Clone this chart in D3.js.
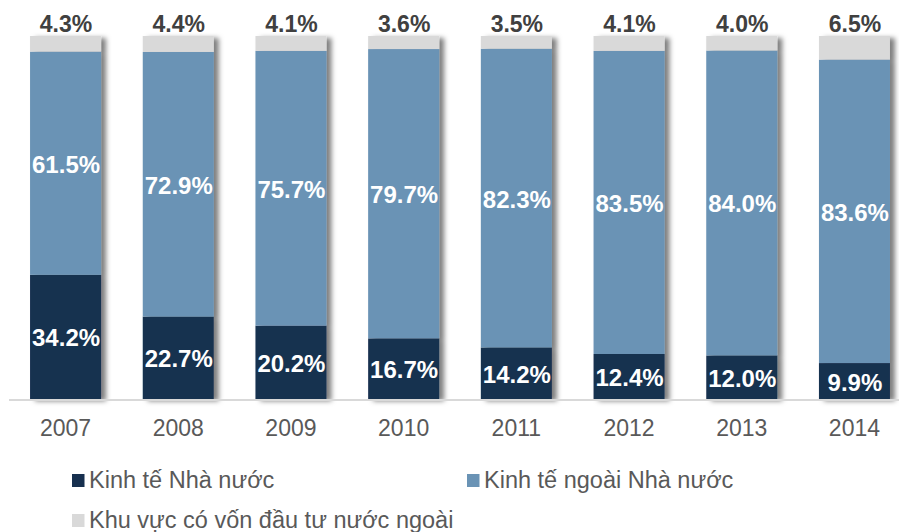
<!DOCTYPE html>
<html>
<head>
<meta charset="utf-8">
<script src="https://cdn.jsdelivr.net/npm/d3@7"></script>
<style>
  html, body { margin: 0; padding: 0; background: #fff; }
  svg { display: block; font-family: "Liberation Sans", Arial, sans-serif; }
</style>
</head>
<body>
<svg id="chart" width="899" height="532"></svg>
<script>
const years = ["2007", "2008", "2009", "2010", "2011", "2012", "2013", "2014"];
const stateSector = [34.2, 22.7, 20.2, 16.7, 14.2, 12.4, 12.0, 9.9];
const nonStateSector = [61.5, 72.9, 75.7, 79.7, 82.3, 83.5, 84.0, 83.6];
const fdiSector = [4.3, 4.4, 4.1, 3.6, 3.5, 4.1, 4.0, 6.5];
const seriesNames = ["Kinh tế Nhà nước", "Kinh tế ngoài Nhà nước", "Khu vực có vốn đầu tư nước ngoài"];
const seriesColors = ["#17304f", "#6a93b5", "#d9d9d9"];

const svg = d3.select("#chart");

const defs = svg.append("defs");
const f = defs.append("filter").attr("id", "shadow")
  .attr("x", "-20%").attr("y", "-5%").attr("width", "150%").attr("height", "115%");
f.append("feDropShadow").attr("dx", 5).attr("dy", 2).attr("stdDeviation", 2.5)
  .attr("flood-color", "#000").attr("flood-opacity", 0.5);

const x = d3.scaleBand().domain(years).range([9.2, 910.8]).paddingInner(0.37).paddingOuter(0.185);
const y = d3.scaleLinear().domain([0, 100]).range([399, 36]);

const rows = years.map((yr, i) => ({ year: yr, s0: stateSector[i], s1: nonStateSector[i], s2: fdiSector[i] }));
const stack = d3.stack().keys(["s0", "s1", "s2"]);
const layers = stack(rows);

// bars with shadow, grouped per year
const barG = svg.append("g");
years.forEach((yr, i) => {
  const g = barG.append("g").attr("filter", "url(#shadow)");
  layers.forEach((layer, k) => {
    const d = layer[i];
    g.append("rect")
      .attr("x", x(yr))
      .attr("width", x.bandwidth())
      .attr("y", y(d[1]))
      .attr("height", y(d[0]) - y(d[1]))
      .attr("fill", seriesColors[k]);
  });
});

// axis line
const axisG = svg.append("g").attr("transform", "translate(0,400)");
axisG.call(d3.axisBottom(x).tickSize(0).tickPadding(0));
axisG.select(".domain").attr("d", "M9,0H899").attr("stroke", "#d9d9d9").attr("stroke-width", 2);
axisG.selectAll(".tick text")
  .attr("y", 36).attr("dy", null)
  .attr("font-size", "23px")
  .attr("font-family", "Liberation Sans, Arial, sans-serif")
  .attr("fill", "#595959");

// inner labels
const labelG = svg.append("g");
[0, 1].forEach(k => {
  layers[k].forEach((d, i) => {
    const cy = (y(d[0]) + y(d[1])) / 2;
    labelG.append("text")
      .attr("x", x(years[i]) + x.bandwidth() / 2 + 0.5)
      .attr("y", cy + 9.5)
      .attr("text-anchor", "middle")
      .attr("font-size", "24px")
      .attr("font-weight", "bold")
      .attr("fill", "#ffffff")
      .text(d3.format(".1f")(d.data[k === 0 ? "s0" : "s1"]) + "%");
  });
});

// top labels
layers[2].forEach((d, i) => {
  labelG.append("text")
    .attr("x", x(years[i]) + x.bandwidth() / 2 + 0.5)
    .attr("y", y(d[1]) - 4)
    .attr("text-anchor", "middle")
    .attr("font-size", "23px")
    .attr("font-weight", "bold")
    .attr("fill", "#404040")
    .text(d3.format(".1f")(d.data.s2) + "%");
});

// legend
const legendPos = [[72, 488], [467, 488], [72, 528]];
const legG = svg.append("g");
seriesNames.forEach((name, k) => {
  const [lx, ly] = legendPos[k];
  legG.append("rect").attr("x", lx).attr("y", ly - 14).attr("width", 12.5).attr("height", 13)
    .attr("fill", seriesColors[k]);
  legG.append("text").attr("x", lx + 17).attr("y", ly)
    .attr("font-size", "23.5px").attr("fill", "#595959").text(name);
});
</script>
</body>
</html>
